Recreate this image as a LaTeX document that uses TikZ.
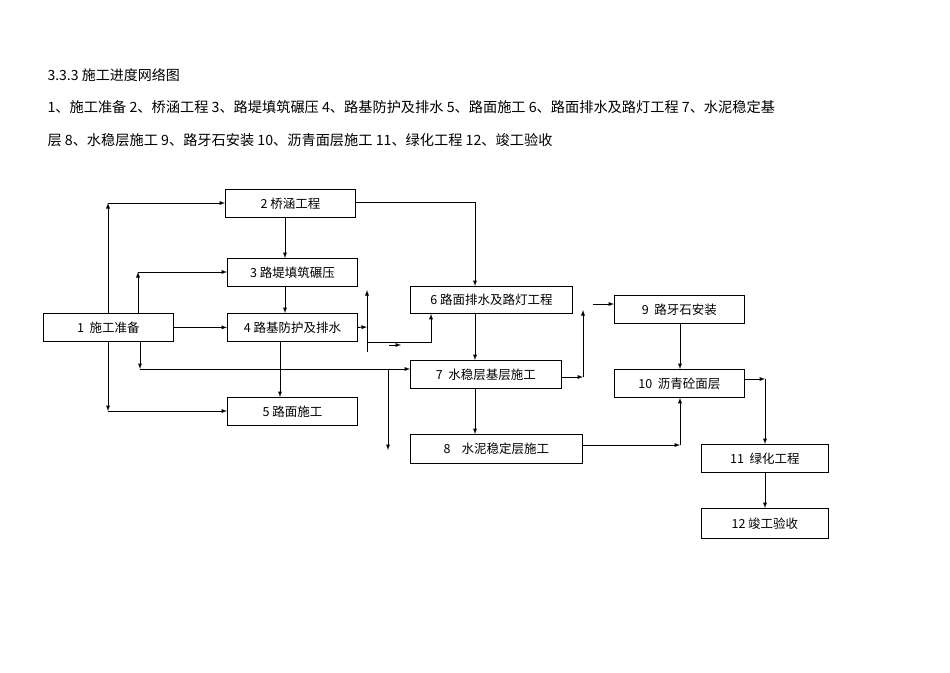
\documentclass[tikz,border=0pt]{standalone}
\usepackage{fontspec}
\setmainfont{Liberation Sans}
\newfontfamily\cjk{Noto Sans CJK SC}
\begin{document}
\begin{tikzpicture}[x=1pt,y=-1pt,
  bx/.style={draw,line width=0.8pt,anchor=north west,inner sep=0pt,font=\cjk\fontsize{12.5}{14}\selectfont},
  ar/.style={-latex,line width=0.9pt},
  ln/.style={line width=0.9pt}]
\useasboundingbox (0,0) rectangle (950,672);
\node[anchor=west,font=\cjk\fontsize{14}{16}\selectfont] (h1) at (44,75) {3.3.3 施工进度网络图};
\node[anchor=west,font=\cjk\fontsize{14.2}{16}\selectfont] (h2) at (44,107) {1、施工准备 2、桥涵工程 3、路堤填筑碾压 4、路基防护及排水 5、路面施工 6、路面排水及路灯工程 7、水泥稳定基};
\node[anchor=west,font=\cjk\fontsize{14.2}{16}\selectfont] (h3) at (44,140) {层 8、水稳层施工 9、路牙石安装 10、沥青面层施工 11、绿化工程 12、竣工验收};
\newcommand{\bxx}[6]{\node[bx,minimum width=#4-#2,minimum height=#5-#3] (#1) at (#2,#3) {}; \node[font=\cjk\fontsize{12.5}{14}\selectfont] at (#1.center) {#6};}
\bxx{b1}{43}{313}{173}{341}{1\ \ 施工准备}
\bxx{b2}{225}{189}{355}{217}{2 桥涵工程}
\bxx{b3}{227}{258}{357}{286}{3 路堤填筑碾压}
\bxx{b4}{227}{313}{357}{341}{4 路基防护及排水}
\bxx{b5}{227}{397}{357}{425}{5 路面施工}
\bxx{b6}{410}{286}{572}{313}{6 路面排水及路灯工程}
\bxx{b7}{410}{360}{561}{388}{7\ \ 水稳层基层施工}
\bxx{b8}{410}{434}{582}{463}{8\ \ \ \ 水泥稳定层施工}
\bxx{b9}{614}{295}{744}{323}{9\ \ 路牙石安装}
\bxx{b10}{614}{369}{744}{397}{10\ \ 沥青砼面层}
\bxx{b11}{701}{444}{828}{472}{11\ \ 绿化工程}
\bxx{b12}{701}{508}{828}{538}{12 竣工验收}
\coordinate (c1) at (108,203);
\coordinate (c2) at (108,411);
\coordinate (c3) at (138,272);
\coordinate (c4) at (140,369);
\coordinate (c5) at (475,202);
\coordinate (c6) at (367,327);
\coordinate (c6t) at (367,290);
\coordinate (c6b) at (367,352);
\coordinate (c7) at (367,342);
\coordinate (c8) at (431,342);
\coordinate (s1) at (389,345);
\coordinate (s2) at (401,345);
\coordinate (c9t) at (388,369);
\coordinate (c9b) at (388,450);
\coordinate (c10) at (583,377);
\coordinate (c10t) at (583,310);
\coordinate (c11) at (593,304);
\coordinate (c12) at (680,445);
\coordinate (c13) at (765,379);
\draw[ar] (b1.north -| c1) -- (c1);
\draw[ar] (c1) -- (b2.west |- c1);
\draw[ar] (b1.south -| c2) -- (c2);
\draw[ar] (c2) -- (b5.west |- c2);
\draw[ar] (b1.north -| c3) -- (c3);
\draw[ar] (c3) -- (b3.west |- c3);
\draw[ar] (b1.south -| c4) -- (c4);
\draw[ar] (c4) -- (b7.west |- c4);
\draw[ar] (b1.east) -- (b4.west);
\draw[ar] (b2.south -| 285,0) -- (b3.north -| 285,0);
\draw[ar] (b3.south -| 285,0) -- (b4.north -| 285,0);
\draw[ar] (b4.south -| 280,0) -- (b5.north -| 280,0);
\draw[ln] (b2.east |- c5) -- (c5);
\draw[ar] (455,202) -- (c5) -- (b6.north -| c5);
\draw[ar] (b4.east) -- (c6);
\draw[ar] (c6b) -- (c6t);
\draw[ar] (c7) -- (c8) -- (b6.south -| c8);
\draw[ar] (s1) -- (s2);
\draw[ar] (c9t) -- (c9b);
\draw[ar] (b6.south -| c5) -- (b7.north -| c5);
\draw[ar] (b7.south -| c5) -- (b8.north -| c5);
\draw[ar] (b7.east |- c10) -- (c10);
\draw[ar] (c10) -- (c10t);
\draw[ar] (c11) -- (b9.west |- c11);
\draw[ar] (b9.south -| c12) -- (b10.north -| c12);
\draw[ar] (b8.east |- c12) -- (c12);
\draw[ar] (c12) -- (b10.south -| c12);
\draw[ar] (b10.east |- c13) -- (c13);
\draw[ar] (c13) -- (b11.north -| c13);
\draw[ar] (b11.south -| c13) -- (b12.north -| c13);
\end{tikzpicture}
\end{document}
